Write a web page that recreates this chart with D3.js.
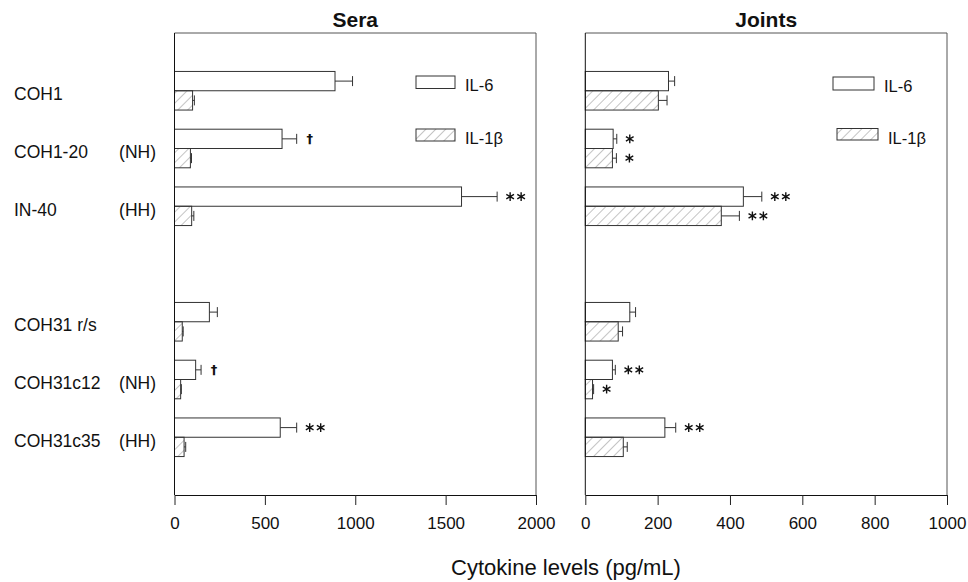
<!DOCTYPE html>
<html>
<head>
<meta charset="utf-8">
<script src="https://cdn.jsdelivr.net/npm/d3@7"></script>
<style>
  body { margin: 0; background: #fff; }
  text { font-family: "Liberation Sans", Arial, sans-serif; fill: #111; }
</style>
</head>
<body>
<script>
/* data (pg/mL), null = empty row */
var categories = ['COH1', 'COH1-20', 'IN-40', '', 'COH31 r/s', 'COH31c12', 'COH31c35'];
var groups     = ['', '(NH)', '(HH)', '', '', '(NH)', '(HH)'];
var seriesNames = ['IL-6', 'IL-1\u03b2'];

var seraIL6      = [888, 595, 1588, null, 193, 117, 585];
var seraIL6Err   = [97, 81, 197, null, 44, 30, 91];
var seraIL1b     = [100, 88, 95, null, 43, 34, 53];
var seraIL1bErr  = [10, 6, 12, null, 5, 4, 9];
var seraIL6Mark  = ['', '\u2020', '**', '', '', '\u2020', '**'];
var seraIL1bMark = ['', '', '', '', '', '', ''];

var jointIL6      = [230, 77, 437, null, 123, 75, 220];
var jointIL6Err   = [17, 10, 51, null, 16, 8, 30];
var jointIL1b     = [202, 75, 376, null, 91, 20, 105];
var jointIL1bErr  = [24, 11, 50, null, 12, 3, 11];
var jointIL6Mark  = ['', '*', '**', '', '', '**', '**'];
var jointIL1bMark = ['', '*', '**', '', '', '*', ''];

var seraTicks  = [0, 500, 1000, 1500, 2000];
var jointTicks = [0, 200, 400, 600, 800, 1000];

var plotTop = 33, plotBottom = 495, barH = 19.3;

var svg = d3.select('body').append('svg')
  .attr('width', 968)
  .attr('height', 582);

/* hatch pattern for IL-1b */
svg.append('defs').append('pattern')
  .attr('id', 'hatch')
  .attr('patternUnits', 'userSpaceOnUse')
  .attr('width', 7).attr('height', 7)
  .attr('patternTransform', 'rotate(45)')
  .append('line')
  .attr('x1', 0).attr('y1', 0).attr('x2', 0).attr('y2', 7)
  .attr('stroke', '#8a8a8a')
  .attr('stroke-width', 1);

var y = d3.scalePoint()
  .domain(d3.range(categories.length))
  .range([plotTop, plotBottom])
  .padding(1);

var panels = [
  { title: 'Sera', x0: 174.5, x1: 536, max: 2000, ticks: seraTicks,
    values: [seraIL6, seraIL1b], errs: [seraIL6Err, seraIL1bErr], marks: [seraIL6Mark, seraIL1bMark],
    legend: [[416, 76, 39, 12.5], [416, 129, 39, 12]] },
  { title: 'Joints', x0: 585.3, x1: 947, max: 1000, ticks: jointTicks,
    values: [jointIL6, jointIL1b], errs: [jointIL6Err, jointIL1bErr], marks: [jointIL6Mark, jointIL1bMark],
    legend: [[833, 77, 41, 13], [837, 128.5, 41, 11.5]] }
];

var star = d3.symbol().type(d3.symbolAsterisk).size(55);

panels.forEach(function (p) {
  var x = d3.scaleLinear().domain([0, p.max]).range([p.x0, p.x1]);
  var g = svg.append('g');

  /* top and right frame */
  g.append('path')
    .attr('d', 'M' + p.x0 + ',' + plotTop + 'H' + p.x1 + 'V' + plotBottom)
    .attr('fill', 'none')
    .attr('stroke', '#555')
    .attr('stroke-width', 1);

  /* title */
  g.append('text')
    .attr('x', (p.x0 + p.x1) / 2)
    .attr('y', 27)
    .attr('text-anchor', 'middle')
    .style('font-size', '21px')
    .style('font-weight', 'bold')
    .text(p.title);

  p.values.forEach(function (vals, s) {
    var rows = d3.range(vals.length).filter(function (i) { return vals[i] != null; });
    var yTop = function (i) { return y(i) - barH + s * barH; };

    g.selectAll('rect.s' + s).data(rows).enter().append('rect')
      .attr('x', x(0))
      .attr('y', yTop)
      .attr('width', function (i) { return x(vals[i]) - x(0); })
      .attr('height', barH)
      .attr('fill', s === 0 ? '#fff' : 'url(#hatch)')
      .attr('stroke', '#333')
      .attr('stroke-width', 1);

    /* error bars */
    rows.forEach(function (i) {
      var ym = yTop(i) + barH / 2;
      var xe = x(vals[i] + p.errs[s][i]);
      g.append('line')
        .attr('x1', x(vals[i])).attr('x2', xe)
        .attr('y1', ym).attr('y2', ym)
        .attr('stroke', '#333');
      g.append('line')
        .attr('x1', xe).attr('x2', xe)
        .attr('y1', ym - 5).attr('y2', ym + 5)
        .attr('stroke', '#333');

      var m = p.marks[s][i];
      if (m === '\u2020') {
        g.append('text')
          .attr('x', xe + 13).attr('y', ym + 4.5)
          .attr('text-anchor', 'middle')
          .attr('fill', '#111')
          .style('font-family', '"DejaVu Sans", sans-serif')
          .style('font-size', '13px')
          .style('font-weight', 'bold')
          .text(m);
      } else if (m) {
        for (var k = 0; k < m.length; k++) {
          g.append('path')
            .attr('d', star)
            .attr('transform', 'translate(' + (xe + 13 + k * 11) + ',' + ym + ')')
            .attr('stroke', '#111')
            .attr('stroke-width', 1.4)
            .attr('fill', 'none');
        }
      }
    });
  });

  /* axes */
  g.append('line')
    .attr('x1', x(0)).attr('x2', x(0))
    .attr('y1', plotTop).attr('y2', plotBottom)
    .attr('stroke', '#111');

  var ax = g.append('g')
    .attr('transform', 'translate(0,' + plotBottom + ')')
    .call(d3.axisBottom(x).tickValues(p.ticks).tickFormat(d3.format('d')).tickSize(10).tickSizeOuter(0));
  ax.select('.domain').attr('stroke', '#111');
  ax.selectAll('.tick line').attr('stroke', '#222');
  ax.selectAll('.tick text')
    .attr('dy', 0).attr('y', 34)
    .style('font-size', '17px')
    .style('font-family', '"Liberation Sans", Arial, sans-serif')
    .attr('fill', '#111');

  /* legend */
  p.legend.forEach(function (b, s) {
    g.append('rect')
      .attr('x', b[0]).attr('y', b[1])
      .attr('width', b[2]).attr('height', b[3])
      .attr('fill', s === 0 ? '#fff' : 'url(#hatch)')
      .attr('stroke', '#333');
    g.append('text')
      .attr('x', b[0] + b[2] + 10)
      .attr('y', b[1] + 15)
      .style('font-size', '16.5px')
      .text(seriesNames[s]);
  });
});

/* row labels */
svg.selectAll('text.cat').data(d3.range(categories.length)).enter().append('text')
  .attr('class', 'cat')
  .attr('x', 14)
  .attr('y', function (i) { return y(i) + 9.5; })
  .style('font-size', '17.5px')
  .text(function (i) { return categories[i]; });

svg.selectAll('text.grp').data(d3.range(groups.length)).enter().append('text')
  .attr('class', 'grp')
  .attr('x', 156)
  .attr('y', function (i) { return y(i) + 9.5; })
  .attr('text-anchor', 'end')
  .style('font-size', '17.5px')
  .text(function (i) { return groups[i]; });

/* shared x title */
svg.append('text')
  .attr('x', 566)
  .attr('y', 575)
  .attr('text-anchor', 'middle')
  .style('font-size', '22px')
  .text('Cytokine levels (pg/mL)');
</script>
</body>
</html>
